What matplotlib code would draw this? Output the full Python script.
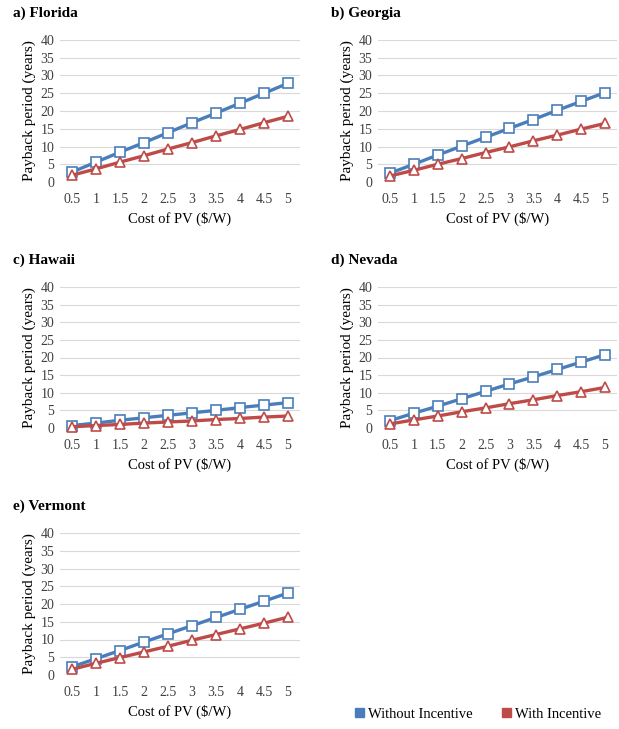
"""
Payback period vs cost of PV, five states, with and without incentive.
"""
import matplotlib
matplotlib.use("Agg")
import matplotlib.pyplot as plt
from matplotlib.patches import Patch

BLUE = "#4A7EBB"
RED  = "#BE4B48"
GRID = "#D9D9D9"
TXT  = "#404040"

plt.rcParams.update({
    "font.family": ["Liberation Serif", "DejaVu Serif"],
    "font.size": 9.5,
    "axes.spines.top": False,
    "axes.spines.right": False,
    "axes.spines.left": False,
    "axes.spines.bottom": False,
})

cost_labels = ["0.5", "1", "1.5", "2", "2.5", "3", "3.5", "4", "4.5", "5"]

florida_wo = [2.8, 5.6, 8.4, 11.1, 13.9, 16.7, 19.4, 22.2, 25.0, 27.8]
florida_w  = [1.9, 3.7, 5.6, 7.4, 9.3, 11.1, 13.0, 14.8, 16.7, 18.5]
georgia_wo = [2.5, 5.0, 7.6, 10.1, 12.6, 15.1, 17.6, 20.2, 22.7, 25.2]
georgia_w  = [1.7, 3.3, 5.0, 6.6, 8.3, 9.9, 11.6, 13.2, 14.9, 16.5]
hawaii_wo  = [0.7, 1.4, 2.2, 2.9, 3.6, 4.3, 5.0, 5.8, 6.5, 7.2]
hawaii_w   = [0.35, 0.7, 1.0, 1.4, 1.7, 2.0, 2.4, 2.7, 3.1, 3.4]
nevada_wo  = [2.1, 4.2, 6.2, 8.3, 10.4, 12.5, 14.5, 16.6, 18.7, 20.8]
nevada_w   = [1.15, 2.3, 3.4, 4.6, 5.7, 6.9, 8.0, 9.2, 10.3, 11.5]
vermont_wo = [2.3, 4.6, 6.9, 9.3, 11.6, 13.9, 16.2, 18.5, 20.8, 23.1]
vermont_w  = [1.6, 3.3, 4.9, 6.5, 8.1, 9.8, 11.4, 13.0, 14.6, 16.3]

titles = ["a) Florida", "b) Georgia", "c) Hawaii", "d) Nevada", "e) Vermont"]
series = [(florida_wo, florida_w), (georgia_wo, georgia_w), (hawaii_wo, hawaii_w),
          (nevada_wo, nevada_w), (vermont_wo, vermont_w)]

# axes rectangles in pixels (left, top, right, bottom) + title y
W, H = 619, 729
rects_px = [(60, 40, 300, 182, 13), (378, 40, 617, 182, 13),
            (60, 287, 300, 428, 260), (378, 287, 617, 428, 260),
            (60, 533, 300, 675, 506)]

fig = plt.figure(figsize=(W / 100, H / 100), dpi=100)

for (l, t, r, b, ty), title, (wo, w) in zip(rects_px, titles, series):
    ax = fig.add_axes([l / W, 1 - b / H, (r - l) / W, (b - t) / H])
    x = range(len(cost_labels))
    ax.plot(x, wo, color=BLUE, lw=2.4, marker="s", ms=6.5, mfc="white",
            mec=BLUE, mew=1.2, clip_on=False, zorder=3)
    ax.plot(x, w, color=RED, lw=2.4, marker="^", ms=6.5, mfc="white",
            mec=RED, mew=1.2, clip_on=False, zorder=3)
    ax.set_xlim(-0.5, len(cost_labels) - 0.5)
    ax.set_ylim(0, 40)
    ax.set_yticks(range(0, 41, 5))
    ax.set_xticks(list(x))
    ax.set_xticklabels(cost_labels)
    ax.grid(axis="y", color=GRID, lw=0.8)
    ax.set_axisbelow(True)
    ax.tick_params(length=0, colors=TXT, labelsize=10, pad=8)
    ax.tick_params(axis="y", pad=4)
    ax.set_ylabel("Payback period (years)", fontsize=11, color="black", labelpad=3)
    ax.set_xlabel("Cost of PV ($/W)", fontsize=10.5, color="black", labelpad=4)
    fig.text((l - 47) / W, 1 - ty / H, title, fontsize=11, fontweight="bold",
             ha="left", va="center")

handles = [Patch(color=BLUE, label="Without Incentive"),
           Patch(color=RED, label="With Incentive")]
fig.legend(handles=handles, loc="center", bbox_to_anchor=(478 / W, 1 - 714 / H),
           ncol=2, frameon=False, fontsize=10.5, handlelength=0.6, handleheight=0.6,
           handletextpad=0.3, columnspacing=2.0)

fig.savefig("out.png", dpi=100)
